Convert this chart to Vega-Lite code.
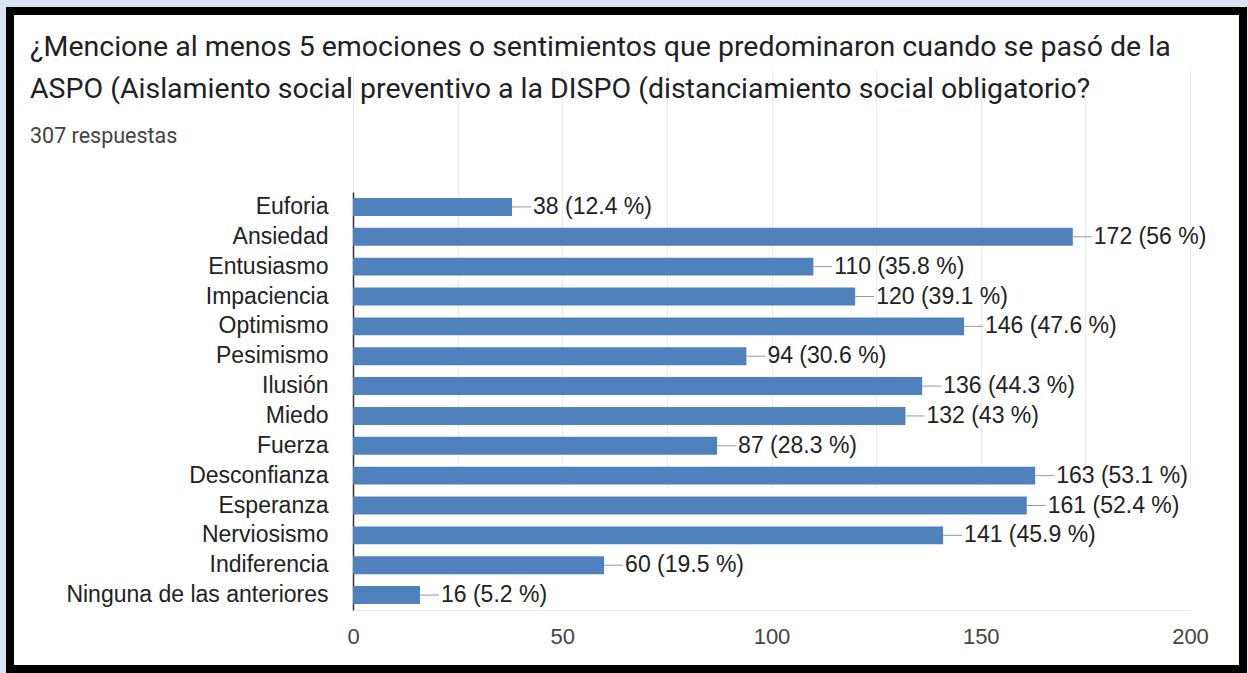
{
  "$schema": "https://vega.github.io/schema/vega-lite/v6.json",
  "width": 1233,
  "height": 658,
  "autosize": {"type": "none"},
  "padding": {"left": 10, "top": 11, "right": 5, "bottom": 4},
  "background": "#dae3f3",
  "config": {"view": {"fill": "white", "stroke": "black", "strokeWidth": 8}},
  "title": {
    "text": ["¿Mencione al menos 5 emociones o sentimientos que predominaron cuando se pasó de la", "ASPO (Aislamiento social preventivo a la DISPO (distanciamiento social obligatorio?"],
    "subtitle": "307 respuestas",
    "anchor": "start",
    "frame": "group",
    "dx": 20,
    "offset": -136,
    "font": "Roboto",
    "fontSize": 28.5,
    "fontWeight": "normal",
    "color": "#202124",
    "lineHeight": 42,
    "subtitleFont": "Roboto",
    "subtitleFontSize": 21.5,
    "subtitleColor": "#444444",
    "subtitlePadding": 22
  },
  "data": {
    "values": [
      {"emocion": "Euforia", "n": 38, "label": "38 (12.4 %)"},
      {"emocion": "Ansiedad", "n": 172, "label": "172 (56 %)"},
      {"emocion": "Entusiasmo", "n": 110, "label": "110 (35.8 %)"},
      {"emocion": "Impaciencia", "n": 120, "label": "120 (39.1 %)"},
      {"emocion": "Optimismo", "n": 146, "label": "146 (47.6 %)"},
      {"emocion": "Pesimismo", "n": 94, "label": "94 (30.6 %)"},
      {"emocion": "Ilusión", "n": 136, "label": "136 (44.3 %)"},
      {"emocion": "Miedo", "n": 132, "label": "132 (43 %)"},
      {"emocion": "Fuerza", "n": 87, "label": "87 (28.3 %)"},
      {"emocion": "Desconfianza", "n": 163, "label": "163 (53.1 %)"},
      {"emocion": "Esperanza", "n": 161, "label": "161 (52.4 %)"},
      {"emocion": "Nerviosismo", "n": 141, "label": "141 (45.9 %)"},
      {"emocion": "Indiferencia", "n": 60, "label": "60 (19.5 %)"},
      {"emocion": "Ninguna de las anteriores", "n": 16, "label": "16 (5.2 %)"}
    ]
  },
  "encoding": {
    "y": {
      "field": "emocion",
      "type": "nominal",
      "sort": null,
      "scale": {"range": [181, 599], "paddingInner": 0.4, "paddingOuter": 0.2},
      "axis": {
        "title": null,
        "offset": -343,
        "labelFont": "Liberation Sans",
        "labelFontSize": 23,
        "labelColor": "#222222",
        "ticks": false,
        "labelPadding": 25,
        "labelLimit": 400,
        "domainColor": "#333333",
        "domainWidth": 1.5,
        "grid": false
      }
    },
    "x": {
      "field": "n",
      "type": "quantitative",
      "scale": {"domain": [0, 200], "range": [343, 1180], "nice": false},
      "axis": {
        "title": null,
        "values": [0, 25, 50, 75, 100, 125, 150, 175, 200],
        "labelExpr": "datum.value % 50 === 0 ? datum.label : ''",
        "labelFlush": false,
        "ticks": false,
        "offset": -59,
        "grid": true,
        "gridColor": "#ebebeb",
        "domainColor": "#e6e6e6",
        "labelFont": "Liberation Sans",
        "labelFontSize": 22,
        "labelColor": "#444444",
        "labelPadding": 16
      }
    }
  },
  "layer": [
    {"mark": {"type": "bar", "color": "#4f81bd"}},
    {
      "mark": {"type": "rule", "color": "#999999", "strokeWidth": 1, "x2Offset": 19},
      "encoding": {"x2": {"field": "n"}}
    },
    {
      "mark": {"type": "text", "align": "left", "baseline": "middle", "dx": 21, "font": "Liberation Sans", "fontSize": 23, "color": "#222222"},
      "encoding": {"text": {"field": "label"}}
    }
  ]
}
